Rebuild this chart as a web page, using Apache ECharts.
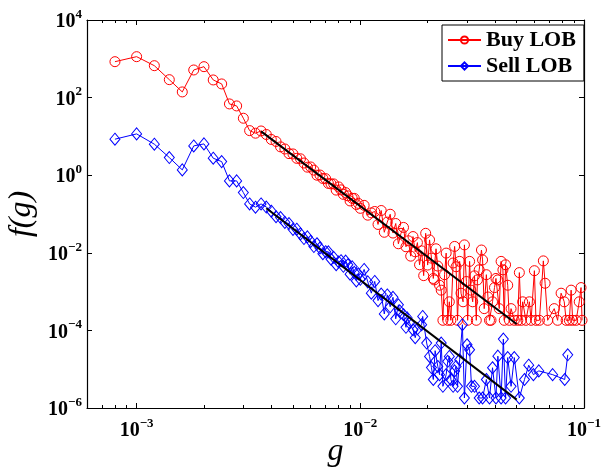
<!DOCTYPE html>
<html><head><meta charset="utf-8">
<script src="https://cdn.jsdelivr.net/npm/echarts@6/dist/echarts.min.js"></script>
<style>html,body{margin:0;padding:0;background:#fff}#c{width:604px;height:468px}</style>
</head><body><div id="c"></div>
<script>
const buyG = [0.0008,0.0010,0.0012,0.0014,0.0016,0.0018,0.0020,0.0022,0.0024,0.0026,0.0028,0.0030,0.0032,0.0034,0.0036,
0.0038,0.0040,0.0042,0.0044,0.0046,0.0048,0.0050,0.0052,0.0054,0.0056,0.0058,0.0060,0.0062,0.0064,0.0066,0.0068,0.0070,0.0072,0.0074,0.0076,0.0078,0.0080,0.0082,0.0084,0.0086,0.0088,0.0090,0.0092,0.0094,0.0096,0.0098,0.0100,
0.0104,0.0108,0.0112,0.0116,0.0120,0.0124,0.0128,0.0132,0.0136,0.0140,0.0144,0.0148,0.0152,0.0156,0.0160,0.0164,0.0168,0.0172,0.0176,0.0180,0.0184,0.0188,0.0192,0.0196,0.0200,
0.0204,0.0208,0.0212,0.0214,0.0218,0.0222,0.0226,0.0230,0.0234,0.0238,
0.0242,0.0246,0.0250,0.0254,0.0260,0.0264,0.0268,0.0272,0.0278,0.0282,
0.0288,0.0292,0.0298,0.0302,0.0308,0.0312,0.0318,0.0324,0.0330,0.0334,
0.0340,0.0348,0.0352,0.0358,0.0366,0.0372,0.0378,0.0384,0.0390,0.0398,
0.0404,0.0412,0.0418,0.0426,0.0434,0.0440,0.0446,0.0456,0.0464,0.0472,
0.0488,0.0506,0.0514,0.0524,0.0532,0.0550,0.0570,0.0580,0.0600,0.0610,
0.0632,0.0658,0.0670,0.0688,0.0736,0.0762,0.0790,0.0816,0.0832,0.0860,
0.0876,0.0890,0.0922,0.0952,0.0970,0.0980];
const buyF = [843,1135,665,290,140,515,627,285,225,68.7,61,29.4,14.1,12.1,13.8,
11.2,8.34,7.40,5.37,4.74,3.60,3.53,2.72,2.65,2.06,1.61,1.63,1.35,1.00,1.01,0.824,0.815,0.614,0.597,0.597,0.413,0.499,0.419,0.321,0.356,0.294,0.217,0.254,0.253,0.175,0.188,0.140,
0.167,0.0933,0.107,0.116,0.0538,0.123,0.0338,0.0617,0.0986,0.0323,0.0569,0.0171,0.0318,0.0451,0.0143,0.0204,0.0082,0.0262,0.0106,0.0183,0.0049,0.0112,0.00258,0.0318,0.00483,
0.0215,0.00728,0.00218,0.00200,0.0127,0.00455,0.00146,0.00109,0.000182,0.00273,
0.00983,0.000182,0.000546,0.000182,0.00546,0.0146,0.00437,0.000182,0.00601,0.00091,
0.000546,0.0160,0.00182,0.000182,0.00601,0.00109,0.000546,0.00255,0.000182,0.00200,
0.00364,0.0118,0.00655,0.000364,0.00273,0.000728,0.000182,0.000182,0.000546,0.00127,
0.00218,0.00200,0.000364,0.00601,0.00364,0.000182,0.00491,0.00146,0.000182,0.000364,
0.000182,0.000182,0.00309,0.000182,0.000546,0.000182,0.000546,0.000182,0.00346,0.000182,
0.000182,0.00619,0.00164,0.000182,0.000364,0.000182,0.00091,0.000546,0.000182,0.000182,
0.00109,0.000182,0.000182,0.000546,0.00127,0.000182];

const sellG = [0.0008,0.0010,0.0012,0.0014,0.0016,0.0018,0.0020,0.0022,0.0024,0.0026,0.0028,0.0030,0.0032,0.0034,0.0036,
0.0038,0.0040,0.0042,0.0044,0.0046,0.0048,0.0050,0.0052,0.0054,0.0056,0.0058,0.0060,0.0062,0.0064,0.0066,0.0068,0.0070,0.0072,0.0074,0.0076,0.0078,0.0080,0.0082,0.0084,0.0086,0.0088,0.0090,0.0092,0.0094,0.0096,0.0098,0.0100,
0.0104,0.0108,0.0112,0.0116,0.0120,0.0124,0.0128,0.0132,0.0136,0.0140,0.0144,
0.0148,0.0150,0.0156,0.0160,0.0162,0.0166,0.0172,0.0176,0.0180,0.0188,0.0190,0.0198,
0.0204,0.0208,0.0212,0.0216,0.0222,0.0226,0.0230,0.0234,
0.0242,0.0246,0.0250,0.0254,0.0260,0.0264,0.0268,0.0272,0.0278,0.0286,
0.0292,0.0300,0.0308,0.0314,0.0324,0.0340,0.0352,0.0366,0.0378,0.0390,
0.0404,0.0412,0.0426,0.0436,0.0446,0.0456,0.0472,0.0488,0.0514,0.0542,
0.0566,0.0594,0.0628,0.0724,0.0820,0.0846];
const sellF = [8.47,11.6,6.3,2.85,1.37,5.69,6.41,2.74,2.24,0.714,0.714,0.357,0.182,0.15,0.182,
0.151,0.118,0.0849,0.0811,0.0608,0.0566,0.0402,0.0406,0.0307,0.0233,0.0257,0.0197,0.0145,0.0171,0.0133,0.00946,0.0107,0.0106,0.00682,0.00764,0.00493,0.00581,0.00627,0.00448,0.00611,0.00492,0.00281,0.00434,0.00313,0.00188,0.00286,0.00207,
0.00373,0.00178,0.000912,0.00183,0.000586,0.000861,0.000265,0.000822,0.000406,0.000713,0.000199,
4.57e-4,3.2e-4,2.53e-4,1.2e-4,2.1e-4,1.55e-4,1.04e-4,6.5e-5,1.1e-4,1.40e-4,2.29e-4,4.72e-5,
2.13e-5,1.1e-5,5.43e-6,3.0e-5,1.18e-5,7.24e-6,4.72e-5,3.62e-6,
7.24e-6,1.6e-5,2.13e-5,5.43e-6,3.62e-6,9.05e-6,1.18e-5,3.62e-6,1.75e-5,1.40e-4,
1.81e-6,4.27e-5,3.17e-5,3.62e-6,3.62e-6,1.81e-6,1.81e-6,5.43e-6,1.81e-6,1.09e-5,
1.81e-6,2.17e-5,1.81e-6,5.98e-5,1.81e-6,1.99e-5,3.62e-6,1.99e-5,1.81e-6,5.43e-6,
1.27e-5,7.24e-6,9.05e-6,7.24e-6,5.43e-6,2.35e-5];

const buyFitG = [0.0036, 0.05];
const buyFitF = [13.5, 1.46e-4];
const sellFitG = [0.0038, 0.05];
const sellFitF = [0.141, 1.64e-6];

const xTickExps = [-3, -2, -1];
const yTickExps = [-6, -4, -2, 0, 2, 4];

function zip(g, f) { return g.map((x, i) => [x, f[i]]); }
function fmtFor(exps) {
  return function (v) {
    const l = Math.log10(v), e = Math.round(l);
    if (Math.abs(l - e) > 1e-6 || exps.indexOf(e) < 0) return '';
    return '{b|10}{s|' + (e < 0 ? '\u2212' + (-e) : e) + '}';
  };
}
const rich = {
  b: { fontFamily: 'Liberation Serif', fontWeight: 'bold', fontSize: 20, lineHeight: 24, verticalAlign: 'bottom', color: '#000' },
  s: { fontFamily: 'Liberation Serif', fontWeight: 'bold', fontSize: 13, lineHeight: 13, verticalAlign: 'top', color: '#000' }
};
const axLine = { show: true, onZero: false, lineStyle: { color: '#000', width: 1.2 } };
const nameStyle = { fontFamily: 'Liberation Serif', fontStyle: 'italic', fontWeight: 'normal', fontSize: 32, color: '#000' };

function xAx(pos, labels) {
  return {
    type: 'log', logBase: 10, min: 6e-4, max: 0.1, position: pos,
    axisLine: axLine,
    axisTick: { show: true, inside: true, length: 5, lineStyle: { color: '#000' } },
    minorTick: { show: true, splitNumber: 9, length: 3, lineStyle: { color: '#000' } },
    splitLine: { show: false }, minorSplitLine: { show: false },
    axisLabel: { show: labels, formatter: fmtFor(xTickExps), rich: rich, margin: 9 },
    name: labels ? 'g' : '', nameLocation: 'middle', nameGap: 28, nameMoveOverlap: false,
    nameTextStyle: nameStyle
  };
}
function yAx(pos, labels) {
  return {
    type: 'log', logBase: 10, min: 1e-6, max: 1e4, interval: 2, position: pos,
    axisLine: axLine,
    axisTick: { show: true, inside: true, length: 5, lineStyle: { color: '#000' } },
    splitLine: { show: false },
    axisLabel: { show: labels, formatter: fmtFor(yTickExps), rich: rich, margin: 5 },
    name: labels ? 'f(g)' : '', nameLocation: 'middle', nameGap: 48,
    nameTextStyle: nameStyle
  };
}

const chart = echarts.init(document.getElementById('c'), null, { renderer: 'canvas' });
chart.setOption({
  animation: false,
  backgroundColor: '#fff',
  grid: { left: 87, right: 20, top: 20, bottom: 60, containLabel: false, outerBoundsMode: 'none' },
  xAxis: [xAx('bottom', true), xAx('top', false)],
  yAxis: [yAx('left', true), yAx('right', false)],
  legend: {
    orient: 'vertical', left: 442, top: 25, itemWidth: 33, itemHeight: 9, itemGap: 4,
    padding: [4, 8, 4, 5], backgroundColor: '#fff', borderColor: '#000', borderWidth: 1, borderRadius: 0,
    selectedMode: false,
    textStyle: { fontFamily: 'Liberation Serif', fontWeight: 'bold', fontSize: 22, color: '#000' },
    data: ['Buy LOB', 'Sell LOB']
  },
  series: [
    { name: 'Buy LOB', type: 'line', data: zip(buyG, buyF), symbol: 'circle', symbolSize: 10,
      itemStyle: { color: 'rgba(255,255,255,0)', borderColor: '#ff0000', borderWidth: 1 },
      lineStyle: { color: '#ff0000', width: 1 }, z: 2 },
    { name: 'Sell LOB', type: 'line', data: zip(sellG, sellF), symbol: 'diamond', symbolSize: [10, 12],
      itemStyle: { color: 'rgba(255,255,255,0)', borderColor: '#0000ff', borderWidth: 1 },
      lineStyle: { color: '#0000ff', width: 1 }, z: 2 },
    { name: 'buyFit', type: 'line', data: zip(buyFitG, buyFitF), symbol: 'none',
      lineStyle: { color: '#000', width: 2 }, z: 3 },
    { name: 'sellFit', type: 'line', data: zip(sellFitG, sellFitF), symbol: 'none',
      lineStyle: { color: '#000', width: 2 }, z: 3 }
  ]
});
</script></body></html>
